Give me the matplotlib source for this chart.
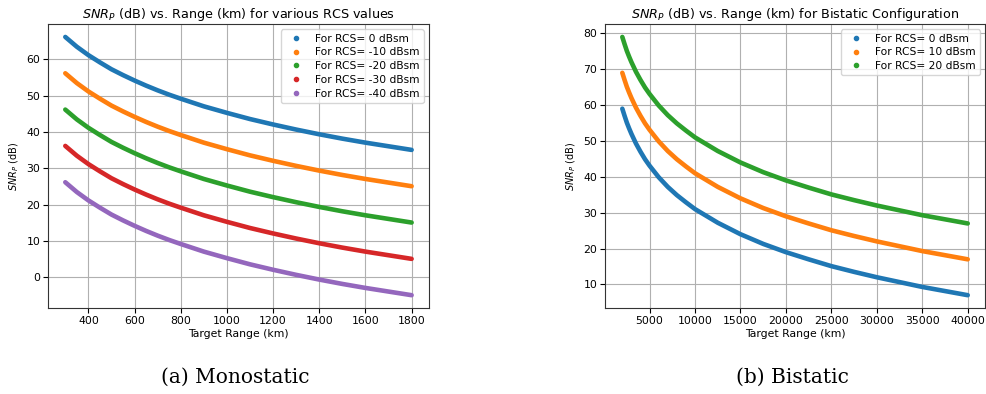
import numpy as np
import matplotlib.pyplot as plt
from matplotlib.lines import Line2D

# monostatic, range in km
mono_range = [300, 350, 400, 450, 500, 550, 600, 650, 700, 750, 800, 900, 1000, 1100, 1200, 1300, 1400, 1500, 1600, 1700, 1800]
mono_rcs0 = [66.2, 63.5, 61.2, 59.2, 57.3, 55.7, 54.2, 52.8, 51.5, 50.3, 49.2, 47.1, 45.3, 43.6, 42.1, 40.7, 39.4, 38.2, 37.1, 36.1, 35.1]
mono_rcs10 = [56.2, 53.5, 51.2, 49.2, 47.3, 45.7, 44.2, 42.8, 41.5, 40.3, 39.2, 37.1, 35.3, 33.6, 32.1, 30.7, 29.4, 28.2, 27.1, 26.1, 25.1]
mono_rcs20 = [46.2, 43.5, 41.2, 39.2, 37.3, 35.7, 34.2, 32.8, 31.5, 30.3, 29.2, 27.1, 25.3, 23.6, 22.1, 20.7, 19.4, 18.2, 17.1, 16.1, 15.1]
mono_rcs30 = [36.2, 33.5, 31.2, 29.2, 27.3, 25.7, 24.2, 22.8, 21.5, 20.3, 19.2, 17.1, 15.3, 13.6, 12.1, 10.7, 9.4, 8.2, 7.1, 6.1, 5.1]
mono_rcs40 = [26.2, 23.5, 21.2, 19.2, 17.3, 15.7, 14.2, 12.8, 11.5, 10.3, 9.2, 7.1, 5.3, 3.6, 2.1, 0.7, -0.6, -1.8, -2.9, -3.9, -4.9]
mono_labels = ['For RCS= 0 dBsm', 'For RCS= -10 dBsm', 'For RCS= -20 dBsm', 'For RCS= -30 dBsm', 'For RCS= -40 dBsm']

# bistatic
bi_range = [2000, 2250, 2500, 2750, 3000, 3500, 4000, 4500, 5000, 6000, 7000, 8000, 9000, 10000, 12500, 15000,
            17500, 20000, 22500, 25000, 27500, 30000, 35000, 40000]
bi_rcs0 = [59.0, 57.0, 55.1, 53.5, 52.0, 49.3, 47.0, 44.9, 43.1, 39.9, 37.2, 34.9, 32.9, 31.0, 27.2, 24.0,
           21.3, 19.0, 17.0, 15.1, 13.5, 12.0, 9.3, 7.0]
bi_rcs10 = [69.0, 67.0, 65.1, 63.5, 62.0, 59.3, 57.0, 54.9, 53.1, 49.9, 47.2, 44.9, 42.9, 41.0, 37.2, 34.0,
            31.3, 29.0, 27.0, 25.1, 23.5, 22.0, 19.3, 17.0]
bi_rcs20 = [79.0, 77.0, 75.1, 73.5, 72.0, 69.3, 67.0, 64.9, 63.1, 59.9, 57.2, 54.9, 52.9, 51.0, 47.2, 44.0,
            41.3, 39.0, 37.0, 35.1, 33.5, 32.0, 29.3, 27.0]
bi_labels = ['For RCS= 0 dBsm', 'For RCS= 10 dBsm', 'For RCS= 20 dBsm']

colors = ['#1f77b4', '#ff7f0e', '#2ca02c', '#d62728', '#9467bd']

fig = plt.figure(figsize=(9.87, 3.94), dpi=100)
ax1 = fig.add_axes([0.0486, 0.218, 0.386, 0.721])
ax2 = fig.add_axes([0.613, 0.218, 0.385, 0.721])


def draw(ax, x, series, labels, title):
    handles = []
    for i, y in enumerate(series):
        ax.plot(x, y, color=colors[i], lw=3.3, solid_capstyle='round', solid_joinstyle='round')
        handles.append(Line2D([], [], color=colors[i], marker='.', ls='none', markersize=6))
    ax.grid(True, color='#b0b0b0', lw=0.8)
    ax.set_title('$SNR_P$ (dB) vs. Range (km) for ' + title, fontsize=9.2, pad=4)
    ax.set_xlabel('Target Range (km)', fontsize=7.8, labelpad=2)
    ax.set_ylabel('$SNR_P$ (dB)', fontsize=7, labelpad=4)
    ax.tick_params(labelsize=7.8, length=3.5, pad=2)
    for s in ax.spines.values():
        s.set_color('#333333')
    ax.legend(handles, labels, loc='upper right', fontsize=7.7, handletextpad=0.8,
              borderpad=0.4, labelspacing=0.35, framealpha=0.8)


draw(ax1, mono_range, [mono_rcs0, mono_rcs10, mono_rcs20, mono_rcs30, mono_rcs40], mono_labels,
     'various RCS values')
ax1.set_xticks([400, 600, 800, 1000, 1200, 1400, 1600, 1800])

draw(ax2, bi_range, [bi_rcs0, bi_rcs10, bi_rcs20], bi_labels, 'Bistatic Configuration')
ax2.set_xticks([5000, 10000, 15000, 20000, 25000, 30000, 35000, 40000])

fig.text(0.238, 0.028, '(a) Monostatic', ha='center', fontsize=14.5, family='DejaVu Serif')
fig.text(0.803, 0.028, '(b) Bistatic', ha='center', fontsize=14.5, family='DejaVu Serif')

fig.savefig('out.png', dpi=100)
